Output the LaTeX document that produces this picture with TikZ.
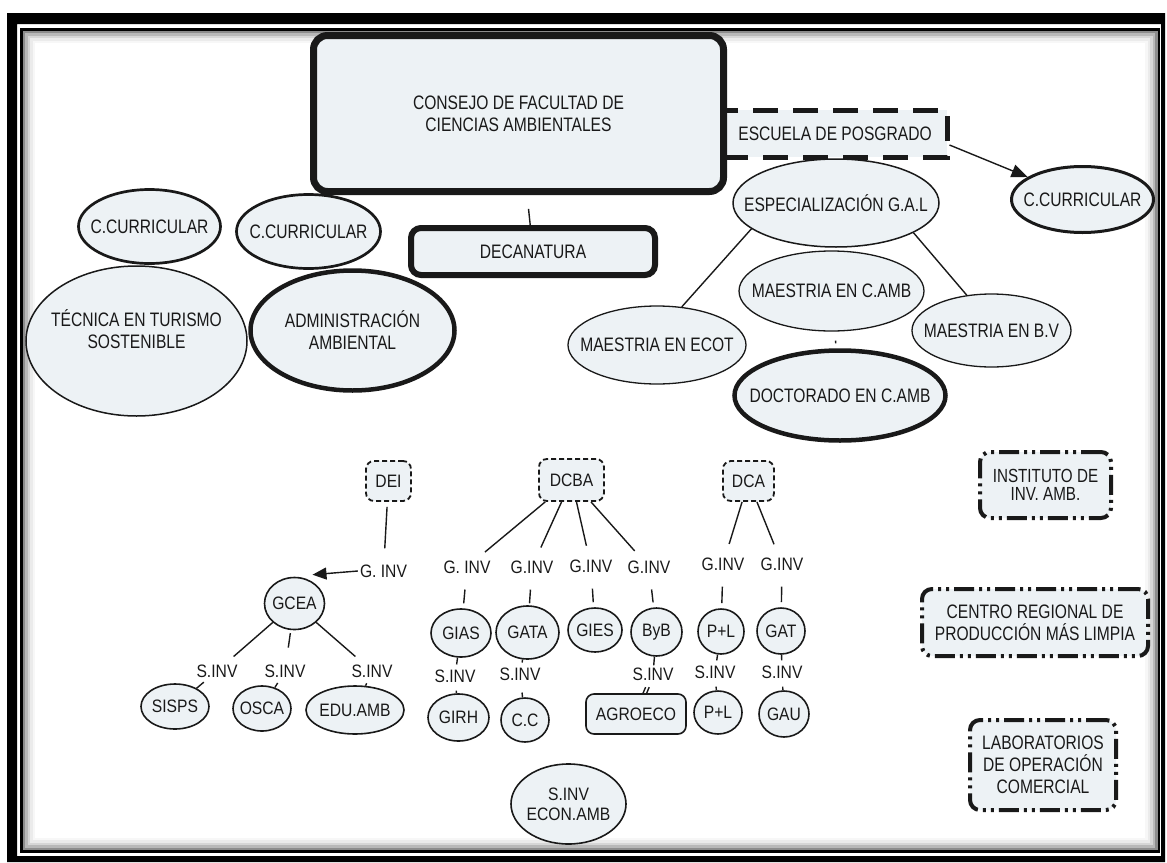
\documentclass[tikz,border=0pt]{standalone}
\usepackage{fontspec}
\setmainfont{Liberation Sans}[FakeStretch=0.8]
\newfontfamily\smallfont{Liberation Sans}[FakeStretch=0.87]
\usetikzlibrary{shapes.geometric,arrows.meta}
\definecolor{nfill}{RGB}{237,242,245}
\definecolor{ink}{RGB}{25,25,25}
\begin{document}
\begin{tikzpicture}[x=1pt,y=-1pt,
  big/.style={font=\fontsize{19.5}{22}\selectfont, text=ink, align=center},
  sm/.style={font=\smallfont\fontsize{18}{20}\selectfont, text=ink, align=center},
  ell/.style={ellipse, draw=ink, fill=nfill, inner xsep=-70pt, inner ysep=-40pt},
  rbox/.style={rectangle, draw=ink, fill=nfill, inner sep=0pt},
  thin/.style={line width=1.5pt},
  smell/.style={ell, sm, line width=1.6pt},
  lbl/.style={sm, inner sep=2pt},
  conn/.style={draw=ink, line width=1.4pt},
  dbox/.style={rbox, sm, rounded corners=8pt, line width=1.8pt, dash pattern=on 5pt off 3pt},
  ddbox/.style={rbox, big, rounded corners=10pt, line width=4pt, dash pattern=on 20pt off 5pt on 3pt off 5pt on 3pt off 5pt},
  tk/.style={conn, shorten <=14pt, shorten >=5pt},
  tkb/.style={conn, shorten >=3pt},
  tkc/.style={conn, shorten <=6pt}
]
\useasboundingbox (0,0) rectangle (1167,862);
% ---------- frame ----------
\fill[black, even odd rule] (7,13) rectangle (1165,862) (17,24) rectangle (1161,856);
\foreach \i/\c in {2.5/45,5/28,7.5/16,10/8,12.5/3}{
  \draw[black!\c, line width=2.6pt] (21.5+\i,29.5+\i) rectangle (1159-\i,851.5-\i);
}
\draw[black, line width=2.5pt] (21.5,29.5) rectangle (1159,851.5);

% ---------- top ----------
\node[rbox, big, line width=5pt, dash pattern=on 25pt off 15pt, minimum width=224pt, minimum height=47pt] (escuela) at (835,133.5) {ESCUELA DE POSGRADO};
\node[rbox, big, line width=7pt, rounded corners=14pt, minimum width=410pt, minimum height=156pt] (consejo) at (518.5,113.5) {CONSEJO DE FACULTAD DE\\CIENCIAS AMBIENTALES};
\node[rbox, big, line width=6pt, rounded corners=10pt, minimum width=244pt, minimum height=47pt] (decan) at (533,251.5) {DECANATURA};

\node[ell, big, line width=3pt, minimum width=142pt, minimum height=66pt] (ccR) at (1082.5,199.5) {C.CURRICULAR};
\node[ell, big, thin, minimum width=206pt, minimum height=88pt] (esp) at (836,203) {ESPECIALIZACIÓN G.A.L};
\node[ell, big, line width=1.3pt, minimum width=185pt, minimum height=80pt] (mcamb) at (831.5,291) {MAESTRIA EN C.AMB};
\node[ell, big, line width=1.3pt, minimum width=159pt, minimum height=73pt] (mbv) at (991.5,330.5) {MAESTRIA EN B.V};
\node[ell, big, line width=1.3pt, minimum width=178pt, minimum height=78pt] (mecot) at (657,345) {MAESTRIA EN ECOT};
\node[ell, big, line width=4.5pt, minimum width=211pt, minimum height=90pt] (doc) at (840,395.5) {DOCTORADO EN C.AMB};

\node[ell, big, thin, minimum width=221pt, minimum height=150pt,
  label={[big, yshift=12pt]center:TÉCNICA EN TURISMO\\SOSTENIBLE}] (tec) at (136.5,341) {};
\node[ell, big, line width=2.7pt, minimum width=142pt, minimum height=74pt] (ccL1) at (149.5,226.5) {C.CURRICULAR};
\node[ell, big, line width=4.5pt, minimum width=204pt, minimum height=120pt] (adm) at (352.5,330.5) {ADMINISTRACIÓN\\AMBIENTAL};
\node[ell, big, line width=2.7pt, minimum width=144pt, minimum height=74pt] (ccL2) at (308.5,231.5) {C.CURRICULAR};

% top connectors
\draw[conn, shorten <=14pt] (consejo) -- (decan);
\draw[conn, -{Triangle[length=16pt,width=13pt]}] ([yshift=-11.5pt]escuela.east) -- (ccR);
\draw[conn] (esp.197) -- (mecot.57);
\draw[conn] (esp.339) -- (mbv.125);
\draw[conn, shorten <=9pt, shorten >=5pt] (mcamb) -- (doc);

% ---------- DEI ----------
\node[dbox, minimum width=45pt, minimum height=40pt] (dei) at (388.5,481) {DEI};
\node[lbl] (g0) at (383.5,571) {G. INV};
\node[smell, minimum width=60pt, minimum height=52pt] (gcea) at (294.5,603.5) {GCEA};
\node[lbl] (s1) at (217,671) {S.INV};
\node[lbl] (s2) at (285,671) {S.INV};
\node[lbl] (s3) at (372,671) {S.INV};
\node[smell, minimum width=68pt, minimum height=45pt] (sisps) at (175,706.5) {SISPS};
\node[smell, minimum width=58pt, minimum height=45pt] (osca) at (262,708.5) {OSCA};
\node[smell, minimum width=98pt, minimum height=48pt] (edu) at (355,710) {EDU.AMB};

\draw[conn, shorten <=5pt, shorten >=14pt] (dei) -- (g0);
\draw[conn, -{Triangle[length=14pt,width=12pt]}] (g0.west) -- ([xshift=18pt,yshift=2pt]gcea.north);
\draw[conn, shorten >=9pt] (gcea) -- (s1);
\draw[conn, shorten <=3pt, shorten >=15pt] (gcea) -- (s2);
\draw[conn, shorten >=9pt] (gcea) -- (s3);
\draw[conn, shorten <=4pt] (s1) -- (sisps);
\draw[conn, shorten <=4pt] (s2) -- (osca);
\draw[conn, shorten <=4pt] (s3) -- (edu);

% ---------- DCBA ----------
\node[dbox, minimum width=65pt, minimum height=42pt] (dcba) at (571.5,480) {DCBA};
\node[lbl] (g1) at (467,567) {G. INV};
\node[lbl] (g2) at (532,567) {G.INV};
\node[lbl] (g3) at (591,566) {G.INV};
\node[lbl] (g4) at (649,567) {G.INV};
\node[smell, minimum width=60pt, minimum height=48pt] (gias) at (461,633) {GIAS};
\node[smell, minimum width=63pt, minimum height=53pt] (gata) at (527.5,632.5) {GATA};
\node[smell, minimum width=54pt, minimum height=44pt] (gies) at (595,630) {GIES};
\node[smell, minimum width=51pt, minimum height=48pt] (byb) at (656.5,632) {ByB};
\node[lbl] (s4) at (455,676) {S.INV};
\node[lbl] (s5) at (520,674) {S.INV};
\node[lbl] (s6) at (653,674) {S.INV};
\node[smell, minimum width=61pt, minimum height=47pt] (girh) at (458.5,717.5) {GIRH};
\node[smell, minimum width=48pt, minimum height=44pt] (cc) at (525,720) {C.C};
\node[rbox, sm, line width=1.6pt, rounded corners=8pt, minimum width=100pt, minimum height=40pt] (agro) at (636,714) {AGROECO};
\node[smell, minimum width=115pt, minimum height=80pt] (econ) at (568.5,804) {S.INV\\ECON.AMB};

\draw[conn, shorten >=10pt] (dcba) -- (g1);
\draw[conn, shorten >=12pt] (dcba) -- (g2);
\draw[conn, shorten >=12pt] (dcba) -- (g3);
\draw[conn, shorten >=10pt] (dcba) -- (g4);
\draw[tk] (g1) -- (gias);
\draw[tk, shorten >=2pt] (g2) -- (gata);
\draw[tk] (g3) -- (gies);
\draw[tk] (g4) -- (byb);
\draw[tkb] (gias) -- (s4);
\draw[tkc] (s4) -- (girh);
\draw[tkb] (gata) -- (s5);
\draw[conn, shorten <=10pt] (s5) -- (cc);
\draw[conn] (byb) -- (s6);
\draw[conn, shorten <=5pt, transform canvas={xshift=-1.8pt}] (s6) -- (agro);
\draw[conn, shorten <=5pt, transform canvas={xshift=1.8pt}] (s6) -- (agro);

% ---------- DCA ----------
\node[dbox, minimum width=51pt, minimum height=40pt] (dca) at (748.5,481) {DCA};
\node[lbl] (g5) at (723,564) {G.INV};
\node[lbl] (g6) at (782,564) {G.INV};
\node[smell, minimum width=46pt, minimum height=45pt] (p1) at (721,631.5) {P+L};
\node[smell, minimum width=48pt, minimum height=46pt] (gat) at (781,631) {GAT};
\node[lbl] (s7) at (715,672) {S.INV};
\node[lbl] (s8) at (782,672) {S.INV};
\node[smell, minimum width=48pt, minimum height=43pt] (p2) at (718,712.5) {P+L};
\node[smell, minimum width=50pt, minimum height=46pt] (gau) at (784,714) {GAU};

\draw[conn, shorten >=12pt] (dca) -- (g5);
\draw[conn, shorten >=12pt] (dca) -- (g6);
\draw[tk] (g5) -- (p1);
\draw[tk] (g6) -- (gat);
\draw[tkb] (p1) -- (s7);
\draw[tkc] (s7) -- (p2);
\draw[tkb] (gat) -- (s8);
\draw[tkc] (s8) -- (gau);

% ---------- right boxes ----------
\node[ddbox, font=\fontsize{19}{18.5}\selectfont, minimum width=131pt, minimum height=66pt] (inst) at (1045.5,485) {INSTITUTO DE\\INV. AMB.};
\node[ddbox, minimum width=226pt, minimum height=67pt] (centro) at (1035,622.5) {CENTRO REGIONAL DE\\PRODUCCIÓN MÁS LIMPIA};
\node[ddbox, minimum width=146pt, minimum height=90pt] (lab) at (1043,765) {LABORATORIOS\\DE OPERACIÓN\\COMERCIAL};
\end{tikzpicture}
\end{document}
